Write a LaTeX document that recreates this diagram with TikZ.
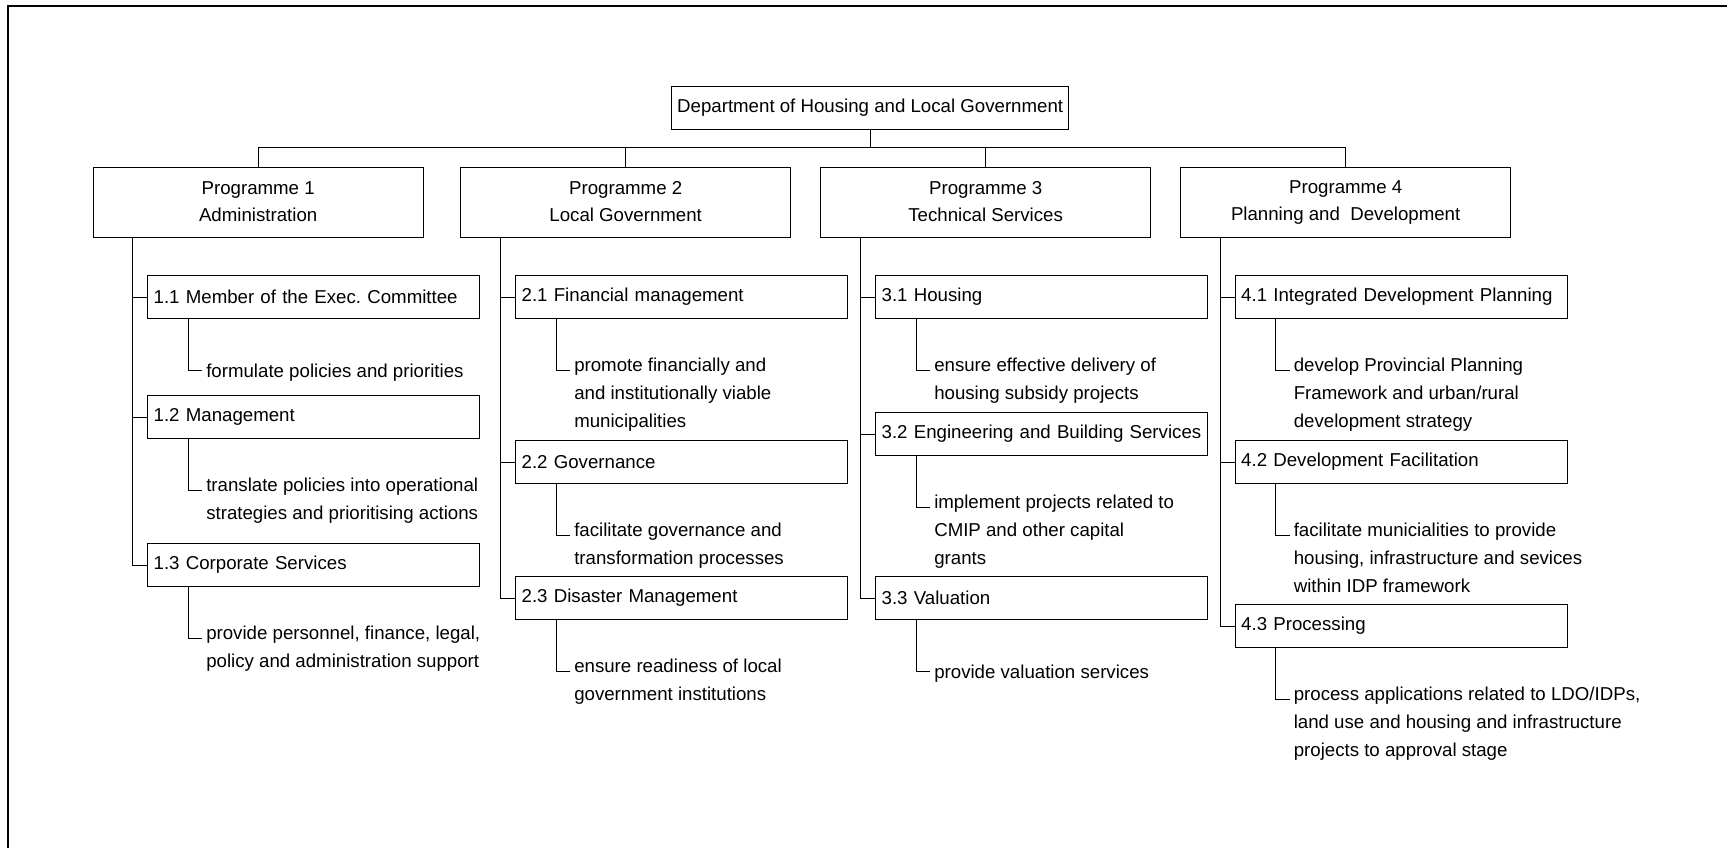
\documentclass[tikz,border=0pt]{standalone}
\usepackage{fontspec}
\setmainfont{Liberation Sans}
\frenchspacing
\usetikzlibrary{calc}

\begin{document}
\begin{tikzpicture}[x=0.75pt,y=0.75pt,yscale=-1,xscale=1,
  deptbox/.style={draw, line width=1pt, anchor=north west, minimum width=297.75pt, minimum height=32.25pt, inner sep=0pt, font=\fontsize{14}{20}\selectfont},
  progbox/.style={draw, line width=1pt, anchor=north west, align=center, minimum width=247.5pt, minimum height=52.5pt, inner sep=0pt, font=\fontsize{14}{20}\selectfont, execute at end node={\rule[-1.5pt]{0pt}{1pt}}},
  subbox/.style={draw, line width=1pt, anchor=north west, text width=240pt, align=left, inner xsep=4.5pt, inner ysep=0pt, minimum height=32.25pt, font=\fontsize{14}{20}\selectfont},
  desc/.style={anchor=north west, align=left, inner xsep=3pt, inner ysep=0pt, font=\fontsize{14}{21.2}\selectfont, execute at begin node=\strut},
  link/.style={line width=0.75pt}]
\useasboundingbox (0,0) rectangle (1727,848);

%Frame
\draw [line width=1.5pt] (8,848) -- (8,6) -- (1727,6) ;

% Text Node
\node [deptbox] (dept) at (671,86) {Department of Housing and Local Government};
\coordinate (bus) at (0,147.5);

% Text Node
\node [progbox] (p1) at (92.5,167) {Programme 1\\Administration};
\node [progbox] (p2) at (460,167) {Programme 2\\Local Government};
\node [progbox] (p3) at (820,167) {Programme 3\\Technical Services};
\node [progbox] (p4) at (1180,167) {Programme 4\\Planning and~ Development};

%Straight Lines
\draw [link] (dept.south) -- (dept.south |- bus) -| (p1.north) ;
\draw [link] (dept.south) -- (dept.south |- bus) -| (p2.north) ;
\draw [link] (dept.south) -- (dept.south |- bus) -| (p3.north) ;
\draw [link] (dept.south) -- (dept.south |- bus) -| (p4.north) ;

% Text Node
\node [subbox] (s11) at (147,275) {1.1 Member of the Exec. Committee};
\node [subbox] (s12) at (147,395) {1.2 Management};
\node [subbox] (s13) at (147,543) {1.3 Corporate Services};
\node [subbox] (s21) at (515,275) {2.1 Financial management};
\node [subbox] (s22) at (515,440) {2.2 Governance};
\node [subbox] (s23) at (515,576) {2.3 Disaster Management};
\node [subbox] (s31) at (875,275) {3.1 Housing};
\node [subbox] (s32) at (875,412) {3.2 Engineering and Building Services};
\node [subbox] (s33) at (875,576) {3.3 Valuation};
\node [subbox] (s41) at (1234.5,275) {4.1 Integrated Development Planning};
\node [subbox] (s42) at (1234.5,440) {4.2 Development Facilitation};
\node [subbox] (s43) at (1234.5,604) {4.3 Processing};

% Text Node
\node [desc] (d11) at ($(s11.south west)+(55,38.2)$) {formulate policies and priorities};
\node [desc] (d12) at ($(s12.south west)+(55,38.2)$) {translate policies into operational\\strategies and prioritising actions};
\node [desc] (d13) at ($(s13.south west)+(55,38.2)$) {provide personnel, finance, legal,\\policy and administration support};
\node [desc] (d21) at ($(s21.south west)+(55,38.2)$) {promote financially and\\and institutionally viable\\municipalities};
\node [desc] (d22) at ($(s22.south west)+(55,38.2)$) {facilitate governance and\\transformation processes};
\node [desc] (d23) at ($(s23.south west)+(55,38.2)$) {ensure readiness of local\\government institutions};
\node [desc] (d31) at ($(s31.south west)+(55,38.2)$) {ensure effective delivery of\\housing subsidy projects};
\node [desc] (d32) at ($(s32.south west)+(55,38.2)$) {implement projects related to\\CMIP and other capital\\grants};
\node [desc] (d33) at ($(s33.south west)+(55,38.2)$) {provide valuation services};
\node [desc] (d41) at ($(s41.south west)+(55,38.2)$) {develop Provincial Planning\\Framework and urban/rural\\development strategy};
\node [desc] (d42) at ($(s42.south west)+(55,38.2)$) {facilitate municialities to provide\\housing, infrastructure and sevices\\within IDP framework};
\node [desc] (d43) at ($(s43.south west)+(55,38.2)$) {process applications related to LDO/IDPs,\\land use and housing and infrastructure\\projects to approval stage};

%Straight Lines
\draw [link] ($(p1.south west)+(40,0)$) |- (s11.west) ;
\draw [link] ($(p1.south west)+(40,0)$) |- (s12.west) ;
\draw [link] ($(p1.south west)+(40,0)$) |- (s13.west) ;
\draw [link] ($(p2.south west)+(40,0)$) |- (s21.west) ;
\draw [link] ($(p2.south west)+(40,0)$) |- (s22.west) ;
\draw [link] ($(p2.south west)+(40,0)$) |- (s23.west) ;
\draw [link] ($(p3.south west)+(40,0)$) |- (s31.west) ;
\draw [link] ($(p3.south west)+(40,0)$) |- (s32.west) ;
\draw [link] ($(p3.south west)+(40,0)$) |- (s33.west) ;
\draw [link] ($(p4.south west)+(40,0)$) |- (s41.west) ;
\draw [link] ($(p4.south west)+(40,0)$) |- (s42.west) ;
\draw [link] ($(p4.south west)+(40,0)$) |- (s43.west) ;

%Straight Lines
\draw [link] ($(s11.south west)+(41,0)$) |- ($(d11.north west)+(0,12.8)$) ;
\draw [link] ($(s12.south west)+(41,0)$) |- ($(d12.north west)+(0,12.8)$) ;
\draw [link] ($(s13.south west)+(41,0)$) |- ($(d13.north west)+(0,12.8)$) ;
\draw [link] ($(s21.south west)+(41,0)$) |- ($(d21.north west)+(0,12.8)$) ;
\draw [link] ($(s22.south west)+(41,0)$) |- ($(d22.north west)+(0,12.8)$) ;
\draw [link] ($(s23.south west)+(41,0)$) |- ($(d23.north west)+(0,12.8)$) ;
\draw [link] ($(s31.south west)+(41,0)$) |- ($(d31.north west)+(0,12.8)$) ;
\draw [link] ($(s32.south west)+(41,0)$) |- ($(d32.north west)+(0,12.8)$) ;
\draw [link] ($(s33.south west)+(41,0)$) |- ($(d33.north west)+(0,12.8)$) ;
\draw [link] ($(s41.south west)+(41,0)$) |- ($(d41.north west)+(0,12.8)$) ;
\draw [link] ($(s42.south west)+(41,0)$) |- ($(d42.north west)+(0,12.8)$) ;
\draw [link] ($(s43.south west)+(41,0)$) |- ($(d43.north west)+(0,12.8)$) ;

\end{tikzpicture}
\end{document}
